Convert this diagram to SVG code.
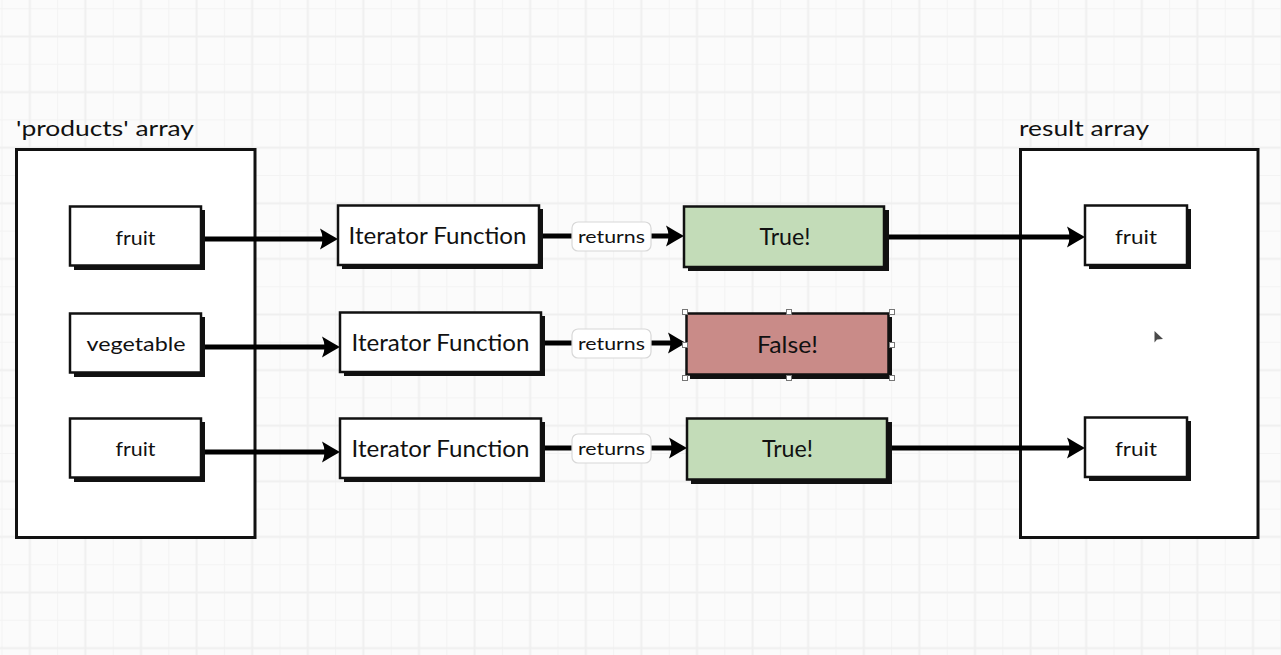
<svg xmlns="http://www.w3.org/2000/svg" width="1281" height="655" viewBox="0 0 1281 655">
<defs>
<pattern id="grid" patternUnits="userSpaceOnUse" x="1.5" y="8.2" width="55.6" height="55.6">
<path d="M0.5,0 V55.6 M0,0.5 H55.6" stroke="#f3f3f3" stroke-width="1.2" fill="none"/>
<path d="M28.3,0 V55.6 M0,28.3 H55.6" stroke="#efefef" stroke-width="2" fill="none"/>
</pattern>
<marker id="ah" markerUnits="userSpaceOnUse" markerWidth="20" markerHeight="24" viewBox="0 0 20 24" refX="10" refY="12" orient="auto">
<path d="M0,1.5 Q9,7 18,12 Q9,17 0,22.5 Q5,12 0,1.5 Z" fill="#000"/>
</marker>
<style>
.cont{fill:#fff;stroke:#111;stroke-width:3}
.box{fill:#fff;stroke:#111;stroke-width:2.5}
.shadow{fill:#111}
.t{font-family:Lato,"Noto Sans",sans-serif;fill:#111;text-anchor:middle}
.lbl{font-family:Lato,"Noto Sans",sans-serif;fill:#111;font-size:22px}
.conn{stroke:#000;stroke-width:5;fill:none}
.ret{fill:#fff;stroke:#d8d8d8;stroke-width:1.2}
.handle{fill:#fff;stroke:#777;stroke-width:1}
</style>
</defs>
<rect x="0" y="0" width="1281" height="655" fill="#fbfbfb"/>
<rect x="0" y="0" width="1281" height="655" fill="url(#grid)"/>

<g id="products-array">
<rect class="cont" x="16.5" y="149.5" width="238.5" height="388"/>
<text class="lbl" x="16" y="136" textLength="178" lengthAdjust="spacingAndGlyphs">'products' array</text>
</g>
<g id="result-array">
<rect class="cont" x="1020.5" y="149.5" width="237.5" height="388"/>
<text class="lbl" x="1019" y="136" textLength="130" lengthAdjust="spacingAndGlyphs">result array</text>
</g>

<g id="connectors">
<line class="conn" x1="202" y1="239" x2="330" y2="239" marker-end="url(#ah)"/>
<line class="conn" x1="202" y1="347" x2="332" y2="347" marker-end="url(#ah)"/>
<line class="conn" x1="202" y1="452" x2="332" y2="452" marker-end="url(#ah)"/>
<line class="conn" x1="540" y1="236" x2="572" y2="236"/>
<line class="conn" x1="651" y1="236" x2="676" y2="236" marker-end="url(#ah)"/>
<line class="conn" x1="542" y1="343" x2="572" y2="343"/>
<line class="conn" x1="651" y1="343" x2="678" y2="343" marker-end="url(#ah)"/>
<line class="conn" x1="542" y1="448" x2="572" y2="448"/>
<line class="conn" x1="651" y1="448" x2="679" y2="448" marker-end="url(#ah)"/>
<line class="conn" x1="885" y1="237" x2="1077" y2="237" marker-end="url(#ah)"/>
<line class="conn" x1="888" y1="448" x2="1077" y2="448" marker-end="url(#ah)"/>
<g id="returns-1"><rect class="ret" x="572" y="222" width="79" height="29" rx="6"/><text class="t" x="611.5" y="242.5" font-size="18" textLength="67" lengthAdjust="spacingAndGlyphs">returns</text></g>
<g id="returns-2"><rect class="ret" x="572" y="329" width="79" height="29" rx="6"/><text class="t" x="611.5" y="349.5" font-size="18" textLength="67" lengthAdjust="spacingAndGlyphs">returns</text></g>
<g id="returns-3"><rect class="ret" x="572" y="434" width="79" height="29" rx="6"/><text class="t" x="611.5" y="454.5" font-size="18" textLength="67" lengthAdjust="spacingAndGlyphs">returns</text></g>
</g>

<g id="item-fruit-1">
<rect class="shadow" x="74" y="210" width="131" height="60"/>
<rect class="box" x="70" y="206.5" width="131" height="59"/>
<text class="t" x="135.5" y="245" font-size="20" textLength="40" lengthAdjust="spacingAndGlyphs">fruit</text>
</g>
<g id="item-vegetable">
<rect class="shadow" x="74" y="317" width="131" height="60"/>
<rect class="box" x="70" y="313.5" width="131" height="59"/>
<text class="t" x="136" y="351" font-size="20" textLength="99" lengthAdjust="spacingAndGlyphs">vegetable</text>
</g>
<g id="item-fruit-3">
<rect class="shadow" x="74" y="422" width="131" height="60"/>
<rect class="box" x="70" y="418.5" width="131" height="59"/>
<text class="t" x="135.5" y="456" font-size="20" textLength="40" lengthAdjust="spacingAndGlyphs">fruit</text>
</g>

<g id="iterator-1">
<rect class="shadow" x="342" y="209" width="201" height="60"/>
<rect class="box" x="338" y="205.5" width="201" height="59.5"/>
<text class="t" x="437.5" y="244" font-size="23" textLength="178" lengthAdjust="spacingAndGlyphs">Iterator Function</text>
</g>
<g id="iterator-2">
<rect class="shadow" x="344" y="316" width="201" height="60"/>
<rect class="box" x="340" y="312.5" width="201" height="59.5"/>
<text class="t" x="440.5" y="351" font-size="23" textLength="178" lengthAdjust="spacingAndGlyphs">Iterator Function</text>
</g>
<g id="iterator-3">
<rect class="shadow" x="344" y="422" width="201" height="60"/>
<rect class="box" x="340" y="418.5" width="201" height="59.5"/>
<text class="t" x="440.5" y="457" font-size="23" textLength="178" lengthAdjust="spacingAndGlyphs">Iterator Function</text>
</g>

<g id="true-1">
<rect class="shadow" x="688" y="210" width="201" height="61"/>
<rect class="box" x="684" y="206.5" width="200" height="60.5" style="fill:#c3dcb8"/>
<text class="t" x="785" y="245" font-size="23" textLength="51" lengthAdjust="spacingAndGlyphs">True!</text>
</g>
<g id="false-2">
<rect class="shadow" x="690" y="317" width="202" height="62"/>
<rect class="box" x="686.5" y="313.5" width="202" height="61" style="fill:#c98b88"/>
<text class="t" x="787.5" y="353" font-size="23" textLength="61" lengthAdjust="spacingAndGlyphs">False!</text>
<g id="selection-handles">
<rect class="handle" x="682.5" y="309.5" width="5" height="5"/>
<rect class="handle" x="786.5" y="309.5" width="5" height="5"/>
<rect class="handle" x="889.5" y="309.5" width="5" height="5"/>
<rect class="handle" x="682.5" y="342.5" width="5" height="5"/>
<rect class="handle" x="889.5" y="342.5" width="5" height="5"/>
<rect class="handle" x="682.5" y="375.5" width="5" height="5"/>
<rect class="handle" x="786.5" y="375.5" width="5" height="5"/>
<rect class="handle" x="889.5" y="375.5" width="5" height="5"/>
</g>
</g>
<g id="true-3">
<rect class="shadow" x="691" y="422" width="201" height="62"/>
<rect class="box" x="687" y="418.5" width="200" height="61" style="fill:#c3dcb8"/>
<text class="t" x="787.5" y="457" font-size="23" textLength="51" lengthAdjust="spacingAndGlyphs">True!</text>
</g>

<g id="result-fruit-1">
<rect class="shadow" x="1089" y="209" width="102" height="60"/>
<rect class="box" x="1085" y="205.5" width="102" height="59.5"/>
<text class="t" x="1136" y="244" font-size="20" textLength="42" lengthAdjust="spacingAndGlyphs">fruit</text>
</g>
<g id="result-fruit-3">
<rect class="shadow" x="1089" y="421" width="102" height="60"/>
<rect class="box" x="1085" y="417.5" width="102" height="59.5"/>
<text class="t" x="1136" y="456" font-size="20" textLength="42" lengthAdjust="spacingAndGlyphs">fruit</text>
</g>

<path id="cursor" d="M1154.5,331 L1154.5,342.5 L1157,339.5 L1163,339 Z" fill="#4a4a4a"/>
</svg>
